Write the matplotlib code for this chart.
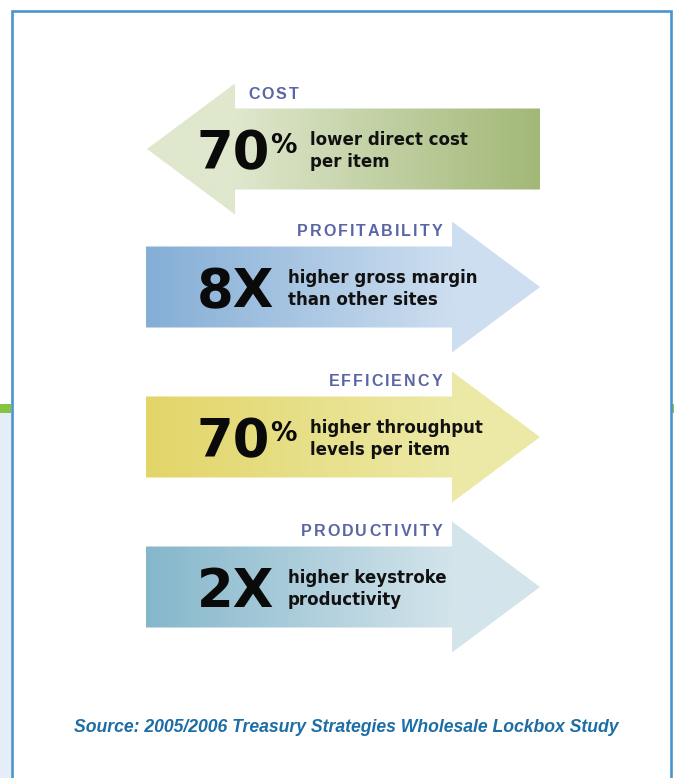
import numpy as np
import matplotlib.pyplot as plt
import matplotlib.patches as mpatches

# chart content
labels = ["COST", "PROFITABILITY", "EFFICIENCY", "PRODUCTIVITY"]
values = ["70", "8X", "70", "2X"]
suffix = ["%", "", "%", ""]
line1 = ["lower direct cost", "higher gross margin", "higher throughput", "higher keystroke"]
line2 = ["per item", "than other sites", "levels per item", "productivity"]
directions = ["left", "right", "right", "right"]
row_y = [149, 287, 437, 587]
grad_from = ["#dfe7cd", "#84aed6", "#e2d568", "#85b7cb"]
grad_to = ["#a2b877", "#cddef0", "#ece9a6", "#d3e4eb"]
source = "Source: 2005/2006 Treasury Strategies Wholesale Lockbox Study"

W, H = 674, 778
fig = plt.figure(figsize=(W / 100, H / 100), dpi=100)
ax = fig.add_axes([0, 0, 1, 1])
ax.set_xlim(0, W)
ax.set_ylim(H, 0)
ax.axis('off')

# frame
ax.add_patch(mpatches.Rectangle((0, 413), 11, H - 413, color='#e5edf8', lw=0))
ax.add_patch(mpatches.Rectangle((0, 404), 11, 9, color='#86c440', lw=0))
ax.add_patch(mpatches.Rectangle((672, 404), 3, 9, color='#86c440', lw=0))
ax.plot([12, 12, 671, 671], [H, 10.5, 10.5, H], color='#4a95cd', lw=1.9,
        solid_joinstyle='miter')


def hex2rgb(c):
    c = c.lstrip('#')
    return np.array([int(c[i:i + 2], 16) / 255 for i in (0, 2, 4)])


def arrow(cy, direction, c0, c1):
    bh, hh = 40.5, 65.5
    if direction == 'right':
        left, back, tip = 146, 452, 540
        pts = [(left, cy - bh), (back, cy - bh), (back, cy - hh), (tip, cy),
               (back, cy + hh), (back, cy + bh), (left, cy + bh)]
        g0, g1 = 146, 452
        xmin, xmax = left, tip
    else:
        tip, back, right = 147, 235, 540
        pts = [(right, cy - bh), (back, cy - bh), (back, cy - hh), (tip, cy),
               (back, cy + hh), (back, cy + bh), (right, cy + bh)]
        g0, g1 = 235, 540
        xmin, xmax = tip, right
    poly = mpatches.Polygon(pts, closed=True, fc='none', ec='none')
    ax.add_patch(poly)
    xs = np.arange(xmin, xmax + 1)
    t = np.clip((xs - g0) / (g1 - g0), 0, 1)[:, None]
    img = hex2rgb(c0) + t * (hex2rgb(c1) - hex2rgb(c0))
    im = ax.imshow(img[None, :, :], extent=(xmin, xmax, cy + hh, cy - hh),
                   aspect='auto', interpolation='bilinear')
    im.set_clip_path(poly)


def tracked(x, y, s, track, align, **kw):
    r = fig.canvas.get_renderer()
    widths = []
    for ch in s:
        t = ax.text(0, 0, ch, **kw)
        widths.append(t.get_window_extent(r).width)
        t.remove()
    total = sum(widths) + track * (len(s) - 1)
    x0 = x - total if align == 'right' else x
    for ch, w in zip(s, widths):
        ax.text(x0, y, ch, ha='left', va='center', **kw)
        x0 += w + track


label_kw = dict(family='Liberation Sans', weight='bold', size=11.5, color='#5a65a6')
num_kw = dict(family='DejaVu Sans', weight='bold', color='#0a0a0a')
desc_kw = dict(family='DejaVu Sans', weight='bold', size=12, color='#111111')

for i in range(len(labels)):
    cy = row_y[i]
    arrow(cy, directions[i], grad_from[i], grad_to[i])
    if directions[i] == 'left':
        tracked(248, cy - 55, labels[i], 2.0, 'left', **label_kw)
    else:
        tracked(442, cy - 56, labels[i], 2.0, 'right', **label_kw)
    ax.text(197, cy + 20, values[i], ha='left', va='baseline', size=38, **num_kw)
    if suffix[i]:
        ax.text(270, cy + 4, suffix[i], ha='left', va='baseline', size=19, **num_kw)
        tx = 310
    else:
        tx = 288
    ax.text(tx, cy - 4, line1[i], ha='left', va='baseline', **desc_kw)
    ax.text(tx, cy + 18, line2[i], ha='left', va='baseline', **desc_kw)

ax.text(346, 727, source, ha='center', va='center', family='Liberation Sans',
        weight='bold', style='italic', size=12.7, color='#1d6ea7')

fig.savefig("out.png", dpi=100)
